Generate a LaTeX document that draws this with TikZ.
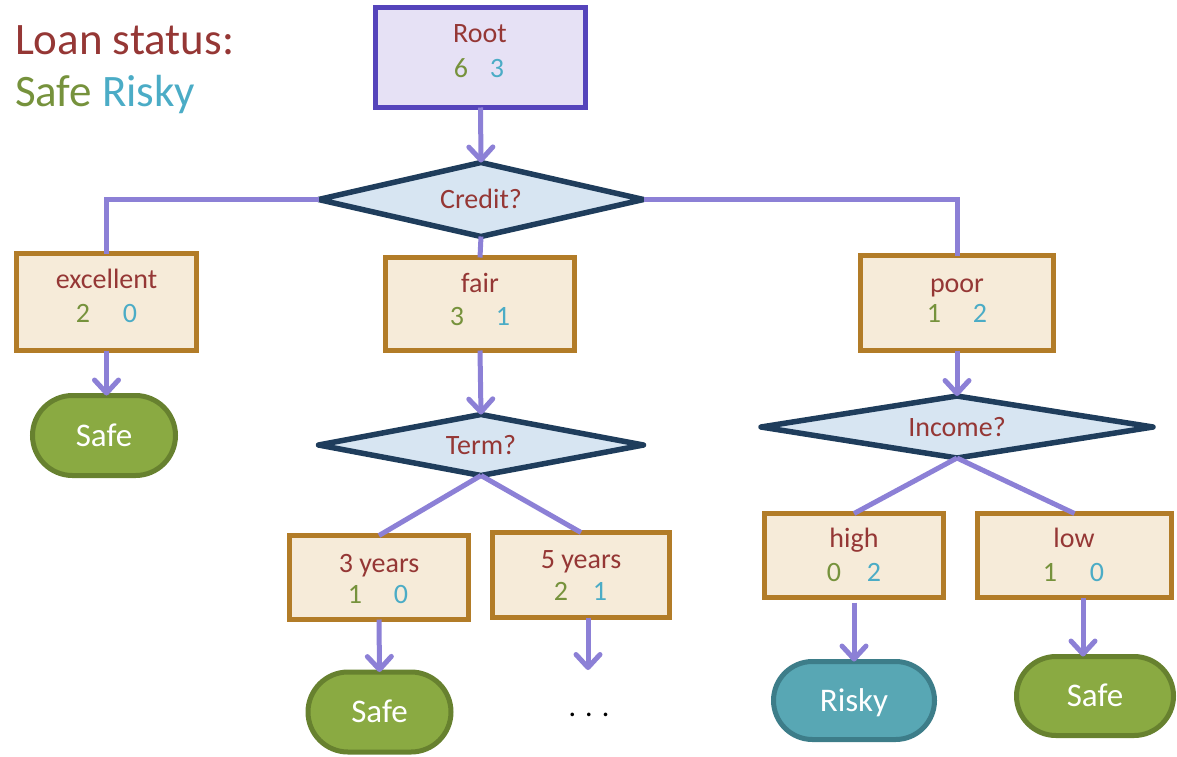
\documentclass[tikz,border=0pt]{standalone}
\usepackage{fontspec}
\setmainfont{Carlito}
\usetikzlibrary{shapes.geometric,shapes.misc,arrows.meta}

\definecolor{labelred}{HTML}{953735}
\definecolor{safegreen}{HTML}{76923C}
\definecolor{riskyteal}{HTML}{4BACC6}
\definecolor{flow}{HTML}{8C80D6}
\definecolor{rootfill}{HTML}{E6E1F5}
\definecolor{rootline}{HTML}{5544BB}
\definecolor{qfill}{HTML}{D7E5F2}
\definecolor{qline}{HTML}{1F3D5C}
\definecolor{boxfill}{HTML}{F6EBD9}
\definecolor{boxline}{HTML}{B27C28}
\definecolor{safefill}{HTML}{8AAA42}
\definecolor{safeline}{HTML}{67812F}
\definecolor{riskyfill}{HTML}{58A7B4}
\definecolor{riskyline}{HTML}{3D7D89}

\tikzset{
  every node/.style={inner sep=0pt, outer sep=0pt},
  legend/.style={font=\fontsize{45}{52}\selectfont, text height=29pt, text depth=0pt},
  body/.style={font=\fontsize{28}{32}\selectfont, text height=18pt, text depth=0pt},
  rootbox/.style={rectangle, draw=rootline, fill=rootfill, line width=5pt},
  splitbox/.style={rectangle, draw=boxline, fill=boxfill, line width=5pt},
  question/.style={diamond, shape aspect=4.5, draw=qline, fill=qfill, line width=5.5pt,
    line join=round, text=labelred, body},
  boxlabel/.style={text=labelred, body},
  safecount/.style={text=safegreen, body},
  riskycount/.style={text=riskyteal, body},
  leaf/.style={rounded rectangle, line width=5pt, text=white,
    font=\fontsize{33}{38}\selectfont, text height=21pt, text depth=0pt},
  safeleaf/.style={leaf, draw=safeline, fill=safefill},
  riskyleaf/.style={leaf, draw=riskyline, fill=riskyfill},
  branch/.style={draw=flow, line width=5pt},
  flowarrow/.style={branch, -{Straight Barb[length=13pt, width=24pt, round]}},
}

\begin{document}
\begin{tikzpicture}[x=1pt, y=-1pt]
\useasboundingbox (0,0) rectangle (1177,756);

% legend
\node[legend, anchor=west, text=labelred] (legend-title) at (15,40) {Loan status:};
\node[legend, anchor=west] (legend-keys) at (15,92)
  {\textcolor{safegreen}{Safe} \textcolor{riskyteal}{Risky}};

% root
\node[rootbox, minimum width=210pt, minimum height=100pt] (root) at (480.5,57.5) {};
\node[boxlabel] (root-label) at (480,33) {Root};
\node[safecount] (root-safe) at (461,68) {6};
\node[riskycount] (root-risky) at (497,68) {3};

% questions
\node[question, minimum width=325pt, minimum height=74pt] (credit) at (481,199.5) {Credit?};
\node[question, minimum width=325pt, minimum height=61pt] (term) at (481,445) {Term?};
\node[question, minimum width=392pt, minimum height=62pt] (income) at (957,427) {Income?};

% credit branches
\node[splitbox, minimum width=180pt, minimum height=97pt] (excellent) at (106.5,302) {};
\node[boxlabel] (excellent-label) at (106.5,279) {excellent};
\node[safecount] (excellent-safe) at (83,313) {2};
\node[riskycount] (excellent-risky) at (130,313) {0};

\node[splitbox, minimum width=189pt, minimum height=93pt] (fair) at (480,304) {};
\node[boxlabel] (fair-label) at (480,283) {fair};
\node[safecount] (fair-safe) at (457,316) {3};
\node[riskycount] (fair-risky) at (503,316) {1};

\node[splitbox, minimum width=193pt, minimum height=95pt] (poor) at (957,303) {};
\node[boxlabel] (poor-label) at (957,283) {poor};
\node[safecount] (poor-safe) at (934,313) {1};
\node[riskycount] (poor-risky) at (980,313) {2};

% term branches
\node[splitbox, minimum width=179pt, minimum height=84pt] (three) at (379,577.5) {};
\node[boxlabel] (three-label) at (379,563) {3 years};
\node[safecount] (three-safe) at (355,594) {1};
\node[riskycount] (three-risky) at (401,594) {0};

\node[splitbox, minimum width=177pt, minimum height=85pt] (five) at (581,575) {};
\node[boxlabel] (five-label) at (581,559) {5 years};
\node[safecount] (five-safe) at (561,591) {2};
\node[riskycount] (five-risky) at (600,591) {1};

% income branches
\node[splitbox, minimum width=179pt, minimum height=84pt] (high) at (854,555.5) {};
\node[boxlabel] (high-label) at (854,538) {high};
\node[safecount] (high-safe) at (834,572) {0};
\node[riskycount] (high-risky) at (874,572) {2};

\node[splitbox, minimum width=194pt, minimum height=84pt] (low) at (1074.5,555.5) {};
\node[boxlabel] (low-label) at (1074,538) {low};
\node[safecount] (low-safe) at (1050,572) {1};
\node[riskycount] (low-risky) at (1097,572) {0};

% leaves
\node[safeleaf, minimum width=143pt, minimum height=80pt] (safe-a) at (104,435.5) {Safe};
\node[safeleaf, minimum width=143pt, minimum height=80pt] (safe-b) at (379.5,712) {Safe};
\node[riskyleaf, minimum width=161pt, minimum height=78pt] (risky-c) at (854,700.5) {Risky};
\node[safeleaf, minimum width=157pt, minimum height=79pt] (safe-d) at (1095,696) {Safe};

% unexpanded subtree
\coordinate (more-end) at (588,670);
\node[font=\fontsize{30}{34}\selectfont, anchor=base] (more) at (589,716) {. . .};

% connectors
\draw[flowarrow] (root.south) -- (credit.north);
\draw[branch] (credit.west) -| (excellent.north);
\draw[branch] (credit.east) -| (poor.north);
\draw[branch] (credit.south) -- (fair.north);
\draw[flowarrow] (excellent.south) -- (excellent.south |- safe-a.north);
\draw[flowarrow] (fair.south) -- (term.north);
\draw[flowarrow] (poor.south) -- (income.north);
\draw[branch] (term.south) -- (three.north);
\draw[branch] (term.south) -- (five.north);
\draw[branch] (income.south) -- (high.north);
\draw[branch] (income.south) -- (low.north);
\draw[flowarrow] (three.south) -- (safe-b.north);
\draw[flowarrow] ([xshift=7pt]five.south) -- (more-end);
\draw[flowarrow, shorten <=5pt] (high.south) -- (risky-c.north);
\draw[flowarrow] ([xshift=8.5pt]low.south) -- ([xshift=8.5pt]low.south |- safe-d.north);

\end{tikzpicture}
\end{document}
